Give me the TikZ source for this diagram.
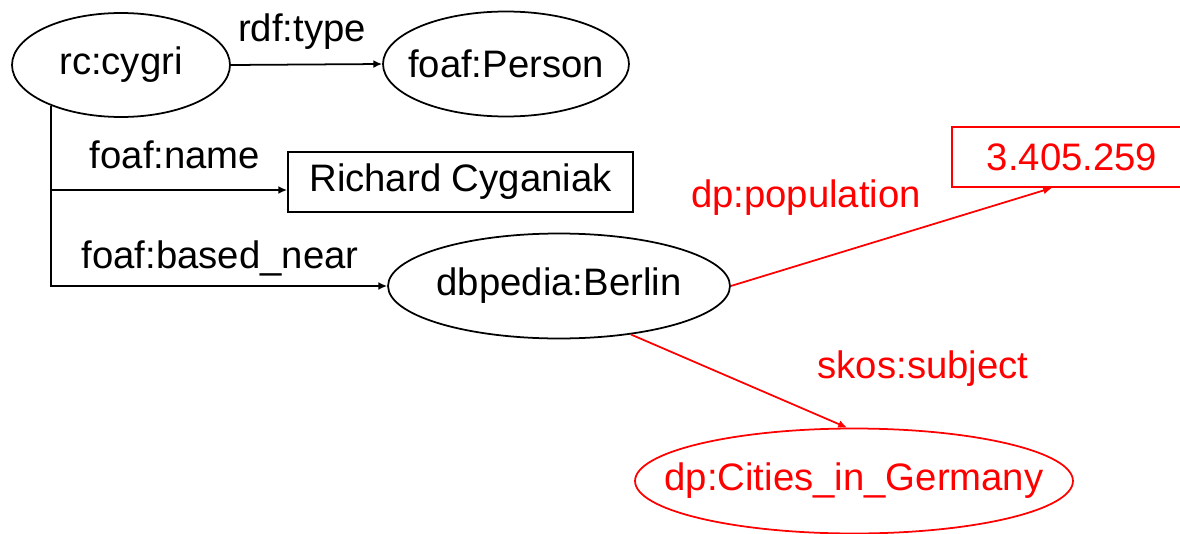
\documentclass[tikz,border=0pt]{standalone}
\usepackage{fontspec}
\setmainfont{Liberation Sans}
\usetikzlibrary{shapes.geometric,arrows.meta,calc}
\newcommand\nodetext[1]{\makebox[0pt]{#1}}
\tikzset{
  res/.style={draw,ellipse,inner sep=0pt,line width=1pt},
  lit/.style={draw,rectangle,inner sep=0pt,line width=1pt},
  link/.style={line width=1pt,-{Latex[length=5pt,width=4.5pt]}},
  lbl/.style={inner sep=0pt,anchor=base},
}
\begin{document}
\begin{tikzpicture}[x=0.02cm,y=-0.02cm,font=\fontsize{21.8}{26}\selectfont]
\useasboundingbox(0,0)rectangle(1180,534);
\node[res,minimum width=4.36cm,minimum height=2.08cm](cygri)at(121,65){\nodetext{rc:cygri}};
\node[res,minimum width=4.92cm,minimum height=2.1cm](person)at(506,64){\nodetext{foaf:Person}};
\node[lit,minimum width=6.9cm,minimum height=1.2cm](name)at(460.5,182){Richard Cyganiak};
\node[res,minimum width=6.84cm,minimum height=2.1cm](berlin)at(559,286){\nodetext{dbpedia:Berlin}};
\node[lit,red,minimum width=4.8cm,minimum height=1.2cm](pop)at(1072,157){3.405.259};
\node[res,red,minimum width=8.76cm,minimum height=2.1cm](cities)at(854,481){\nodetext{dp:Cities\_in\_Germany}};
\node[lbl](ltype)at(302,41){rdf:type};
\node[lbl](lname)at(175,168){foaf:name};
\node[lbl](lnear)at(220,268){foaf:based\_near};
\node[lbl,red](lpop)at(806,207){dp:population};
\node[lbl,red](lsubj)at(923,378){skos:subject};
\draw[link](cygri.east)--(person.west);
\draw[link](cygri.-150)|-($(name.west)+(0,8)$);
\draw[link](cygri.-150)|-(berlin.west);
\draw[link,red](berlin.east)--($(pop.south)+(-20,0)$);
\draw[link,red](berlin.-34)--($(cities.north)+(-7,0)$);
\end{tikzpicture}
\end{document}
